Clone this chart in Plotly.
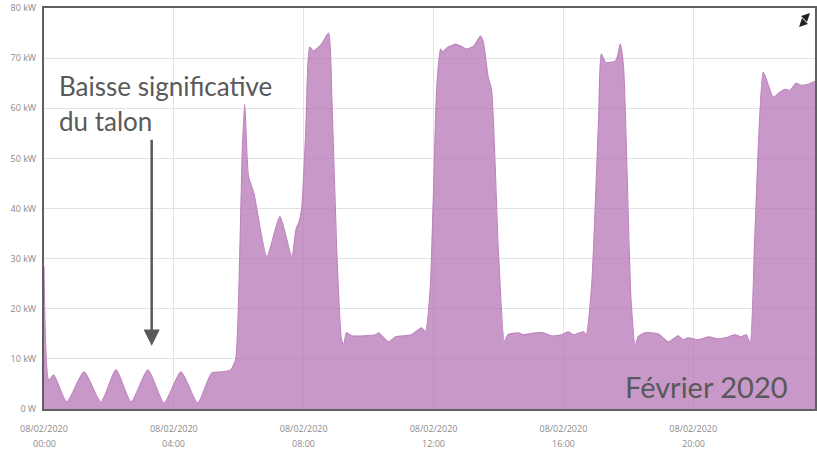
import plotly.graph_objects as go

day = "2020-02-08"
times = ["00:00","00:09","00:18","00:42","01:14","01:45","02:13","02:41","03:12","03:42",
         "04:13","04:44","05:10","05:29","05:45","05:54","06:00","06:06","06:11","06:18",
         "06:28","06:52","07:16","07:38","07:46","07:51","07:56","08:04","08:11","08:18",
         "08:33","08:46","08:52","09:01","09:10","09:14","09:19","09:29","10:13","10:18",
         "10:37","10:50","11:19","11:38","11:45","11:54","12:06","12:13","12:17","12:24",
         "12:41","12:50","13:01","13:14","13:27","13:32","13:41","13:47","14:00","14:11",
         "14:17","14:37","14:46","15:08","15:23","15:38","15:56","16:09","16:18","16:37",
         "16:42","16:52","17:05","17:10","17:18","17:36","17:40","17:45","17:51","18:05",
         "18:13","18:18","18:31","18:55","19:14","19:32","19:41","19:51","20:09","20:28",
         "20:46","20:59","21:17","21:28","21:38","21:45","21:54","22:09","22:15","22:28",
         "22:40","22:50","22:59","23:10","23:19","23:32","23:45"]
power_kw = [28.5,5.8,6.8,1.4,7.4,1.4,7.8,1.4,7.8,1.2,
            7.4,1.2,7.2,7.4,7.8,9.8,23.0,50.0,60.8,46.4,
            43.0,30.4,38.4,30.4,36.0,37.2,39.8,56.0,72.2,71.4,
            72.8,75.0,62.4,31.8,13.8,12.8,15.2,14.6,14.8,15.2,
            13.4,14.4,14.8,16.2,15.4,24.4,64.4,71.8,71.2,72.0,
            72.8,72.4,71.8,72.4,74.4,73.2,66.2,63.8,31.2,13.4,
            14.8,15.2,14.8,15.2,15.2,14.6,14.8,15.4,14.8,15.4,
            14.8,24.4,57.8,70.8,69.2,69.4,70.4,72.8,68.4,21.8,
            12.6,14.4,15.2,15.0,13.4,14.6,13.8,14.2,13.8,14.4,
            14.0,14.2,14.8,14.4,14.8,13.2,35.2,67.2,65.8,62.2,
            63.2,63.8,63.6,65.0,64.6,64.8,65.4]

y_ticks = [0, 10, 20, 30, 40, 50, 60, 70, 80]
y_tick_labels = ["0 W", "10 kW", "20 kW", "30 kW", "40 kW", "50 kW", "60 kW", "70 kW", "80 kW"]
x_tick_hours = ["00:00", "04:00", "08:00", "12:00", "16:00", "20:00"]
x_tick_date = "08/02/2020"

x = [f"{day} {t}" for t in times]
xt = [f"{day} {h}" for h in x_tick_hours]

fig = go.Figure()
fig.add_trace(go.Scatter(
    x=x, y=power_kw, mode="lines", fill="tozeroy",
    line=dict(color="rgb(190,132,190)", width=1.1, shape="spline", smoothing=0.6),
    fillcolor="rgba(182,118,182,0.75)", hoverinfo="skip", showlegend=False))

grey = "#8a8a8a"
annotations = []
for h, v in zip(x_tick_hours, xt):
    annotations.append(dict(x=v, xref="x", y=-0.087, yref="paper", text=h, showarrow=False,
                            xanchor="center", yanchor="middle",
                            font=dict(family="Open Sans", size=9, color=grey)))

annotations.append(dict(x=0.017, xref="paper", y=0.806, yref="paper", text="Baisse significative",
                        showarrow=False, xanchor="left", yanchor="middle",
                        font=dict(family="Lato", size=26, color="#595959")))
annotations.append(dict(x=0.017, xref="paper", y=0.719, yref="paper", text="du talon",
                        showarrow=False, xanchor="left", yanchor="middle",
                        font=dict(family="Lato", size=26, color="#595959")))
annotations.append(dict(x=f"{day} 03:19", xref="x", y=12.6, yref="y",
                        ax=f"{day} 03:19", axref="x", ay=54, ayref="y",
                        text="", showarrow=True, arrowhead=2, arrowsize=1.3,
                        arrowwidth=2.5, arrowcolor="#595959"))
annotations.append(dict(x=0.9675, xref="paper", y=0.055, yref="paper", text="Février 2020",
                        showarrow=False, xanchor="right", yanchor="middle",
                        font=dict(family="Lato", size=29, color="#595959")))
# expand icon (two small diagonal arrow heads)
annotations.append(dict(x=0.9935, xref="paper", y=0.9875, yref="paper", ax=-4, ay=4,
                        text="", showarrow=True, arrowhead=2, arrowsize=1.4,
                        arrowwidth=1.2, arrowcolor="#222222"))
annotations.append(dict(x=0.9793, xref="paper", y=0.9526, yref="paper", ax=4, ay=-4,
                        text="", showarrow=True, arrowhead=2, arrowsize=1.4,
                        arrowwidth=1.2, arrowcolor="#222222"))

fig.update_layout(
    width=817, height=451,
    margin=dict(l=44, r=0, t=8, b=42),
    plot_bgcolor="white", paper_bgcolor="white",
    annotations=annotations,
    xaxis=dict(range=[f"{day} 00:00", f"{day} 23:45"], tickvals=xt,
               ticktext=[x_tick_date] * len(xt), showgrid=True, gridcolor="#e2e2e2",
               gridwidth=1, showline=True, linecolor="#606060", linewidth=2, mirror=True,
               ticks="", ticklabelstandoff=10,
               tickfont=dict(family="Open Sans", size=9, color=grey), zeroline=False),
    yaxis=dict(range=[0, 80], tickvals=y_ticks, ticktext=y_tick_labels, showgrid=True,
               gridcolor="#e2e2e2", gridwidth=1, showline=True, linecolor="#606060",
               linewidth=2, mirror=True, ticks="", ticklabelstandoff=4,
               tickfont=dict(family="Open Sans", size=9, color=grey), zeroline=False),
)

fig.write_html("out.html", config={"displayModeBar": False},
               post_script="document.body.style.margin='0';document.body.style.padding='0';")
